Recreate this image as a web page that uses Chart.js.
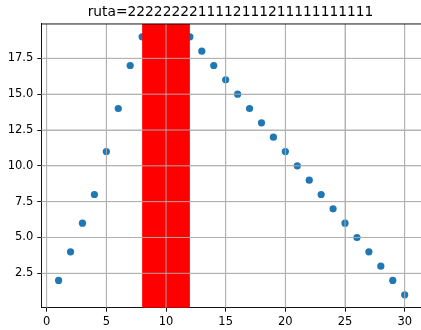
<!DOCTYPE html>
<html>
<head>
<meta charset="utf-8">
<script src="https://cdn.jsdelivr.net/npm/chart.js@4/dist/chart.umd.min.js"></script>
<style>
  html, body { margin: 0; padding: 0; overflow: hidden; background: #fff; width: 421px; height: 330px; }
  #wrap { position: relative; width: 461px; height: 330px; }
</style>
</head>
<body>
<div id="wrap"><canvas id="c" width="461" height="330"></canvas></div>
<script>
// Route title and the sampled values
const routeLabel = 'ruta=2222222211112111211111111111';
const steps  = [1, 2, 3, 4, 5, 6, 7, 8, 9, 10, 11, 12, 13, 14, 15, 16, 17, 18, 19, 20, 21, 22, 23, 24, 25, 26, 27, 28, 29, 30];
const values = [2, 4, 6, 8, 11, 14, 17, 19, 19, 19, 19, 19, 18, 17, 16, 15, 14, 13, 12, 11, 10, 9, 8, 7, 6, 5, 4, 3, 2, 1];

// Highlighted interval on the x axis
const spanStart = 8;
const spanEnd = 12;

// Tick labels
const xTicks = [0, 5, 10, 15, 20, 25, 30];
const yTicks = [2.5, 5.0, 7.5, 10.0, 12.5, 15.0, 17.5];

const FONT = 'DejaVu Sans';
const tickFont = { family: FONT, size: 11.5 };
const GRID = '#b0b0b0';
const LW = 0.93;

// Red band over the points, then the grid lines again on top of everything
const highlightSpan = {
  id: 'highlightSpan',
  afterDatasetsDraw(chart) {
    const { ctx, chartArea: a, scales: { x, y } } = chart;
    const l = x.getPixelForValue(spanStart);
    const r = x.getPixelForValue(spanEnd);
    ctx.save();
    ctx.fillStyle = '#ff0000';
    ctx.fillRect(l, a.top, r - l, a.bottom - a.top);
    ctx.strokeStyle = GRID;
    ctx.lineWidth = LW;
    ctx.beginPath();
    x.ticks.forEach(t => {
      const px = x.getPixelForValue(t.value);
      ctx.moveTo(px, a.top);
      ctx.lineTo(px, a.bottom);
    });
    y.ticks.forEach(t => {
      const py = y.getPixelForValue(t.value);
      ctx.moveTo(a.left, py);
      ctx.lineTo(a.right, py);
    });
    ctx.stroke();
    ctx.restore();
  }
};

// Top frame line
const frame = {
  id: 'frame',
  afterDraw(chart) {
    const { ctx, chartArea: a } = chart;
    ctx.save();
    ctx.strokeStyle = '#000';
    ctx.lineWidth = LW;
    ctx.beginPath();
    ctx.moveTo(a.left, a.top);
    ctx.lineTo(a.right, a.top);
    ctx.stroke();
    ctx.restore();
  }
};

new Chart(document.getElementById('c'), {
  type: 'scatter',
  data: {
    datasets: [{
      data: steps.map((s, i) => ({ x: s, y: values[i] })),
      backgroundColor: '#1f77b4',
      borderColor: '#1f77b4',
      borderWidth: 0,
      pointRadius: 3.6,
      pointHoverRadius: 3.6
    }]
  },
  options: {
    responsive: false,
    animation: false,
    devicePixelRatio: 1,
    events: [],
    layout: { padding: 0 },
    plugins: {
      legend: { display: false },
      tooltip: { enabled: false },
      title: {
        display: true,
        text: routeLabel,
        color: '#000',
        font: { family: FONT, size: 13.8, weight: 'normal', lineHeight: 1.2 },
        padding: { top: 4.2, bottom: 3.2 }
      }
    },
    scales: {
      x: {
        type: 'linear',
        min: -0.45,
        max: 31.45,
        afterBuildTicks: s => { s.ticks = xTicks.map(v => ({ value: v })); },
        afterFit: s => { s.height = 22.3; },
        ticks: {
          color: '#000',
          font: tickFont,
          padding: 3,
          maxRotation: 0,
          autoSkip: false,
          callback: v => String(v)
        },
        grid: { color: GRID, lineWidth: LW, tickColor: '#000', tickLength: 4, drawTicks: true },
        border: { display: true, color: '#000', width: LW }
      },
      y: {
        type: 'linear',
        min: 0.1,
        max: 19.9,
        afterBuildTicks: s => { s.ticks = yTicks.map(v => ({ value: v })); },
        afterFit: s => { s.width = 41.3; },
        ticks: {
          color: '#000',
          font: tickFont,
          padding: 4,
          autoSkip: false,
          callback: v => Number(v).toFixed(1)
        },
        grid: { color: GRID, lineWidth: LW, tickColor: '#000', tickLength: 4, drawTicks: true },
        border: { display: true, color: '#000', width: LW }
      },
      // Empty right-hand gutter so the plot frame ends past the visible edge
      gutter: {
        type: 'linear',
        position: 'right',
        min: 0.1,
        max: 19.9,
        afterFit: s => { s.width = 39; },
        ticks: { display: false },
        grid: { display: false, drawTicks: false },
        border: { display: false }
      }
    }
  },
  plugins: [highlightSpan, frame]
});
</script>
</body>
</html>
